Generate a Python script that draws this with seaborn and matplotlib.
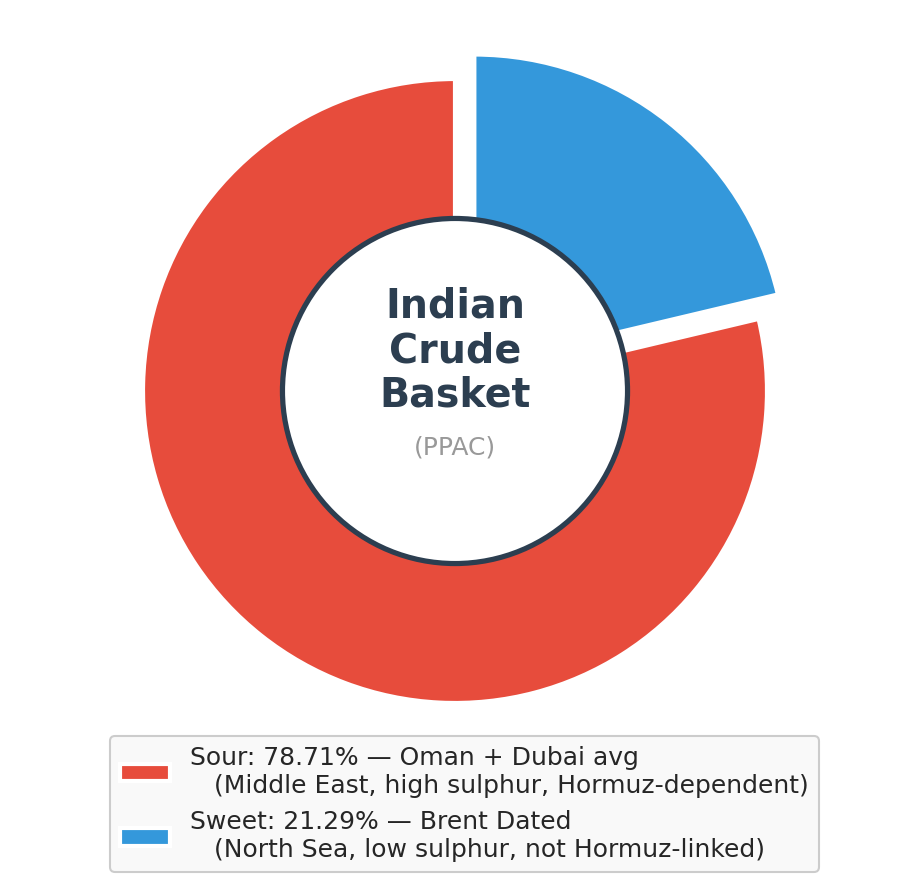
#### Imports ####
import numpy as np
import seaborn as sns
import matplotlib.pyplot as plt
from matplotlib.patches import Circle

#### Data ####
segments = ['Sour', 'Sweet']
shares = [78.71, 21.29]
sources = ['Oman + Dubai avg', 'Brent Dated']
notes = ['(Middle East, high sulphur, Hormuz-dependent)',
         '(North Sea, low sulphur, not Hormuz-linked)']
colors = ['#e74c3c', '#3498db']
explode = [0, 0.1]  # pull out the sweet slice

sns.set_theme(style='white')
plt.rcParams['font.family'] = ['DejaVu Sans']

W, H, DPI = 919, 892, 150
fig = plt.figure(figsize=(W / DPI, H / DPI), dpi=DPI)

# place axes so that radius 1 = ~312 px, centre at (455, 391) from top
R = 312.
lim = 1.4
side = 2 * lim * R
cx, cy = 455., H - 391.
ax = fig.add_axes([(cx - side / 2) / W, (cy - side / 2) / H, side / W, side / H])

labels = [f'{s}: {v:.2f}% — {src}\n   {n}' for s, v, src, n in zip(segments, shares, sources, notes)]

wedges, _ = ax.pie(shares, colors=colors, explode=explode, startangle=90,
                   wedgeprops=dict(edgecolor='white', linewidth=2))

# centre hole with dark ring
ax.add_patch(Circle((0, 0), 0.553, facecolor='white', edgecolor='#2c3e50', linewidth=2.5, zorder=5))
ax.text(0, 0.128, 'Indian\nCrude\nBasket', ha='center', va='center', fontsize=19,
        fontweight='bold', color='#2c3e50', linespacing=1.15, zorder=6)
ax.text(0, -0.18, '(PPAC)', ha='center', va='center', fontsize=12, color='#999999', zorder=6)

ax.set_xlim(-lim, lim)
ax.set_ylim(-lim, lim)
ax.set_aspect('auto')
ax.axis('off')

leg = fig.legend(wedges, labels, loc='lower center', bbox_to_anchor=(0.5055, 0.0224),
                 borderaxespad=0, fontsize=12, frameon=True, fancybox=True, framealpha=1,
                 facecolor='#f9f9f9', edgecolor='#cccccc', labelspacing=0.5)

fig.savefig('out.png', dpi=DPI, facecolor='white')
